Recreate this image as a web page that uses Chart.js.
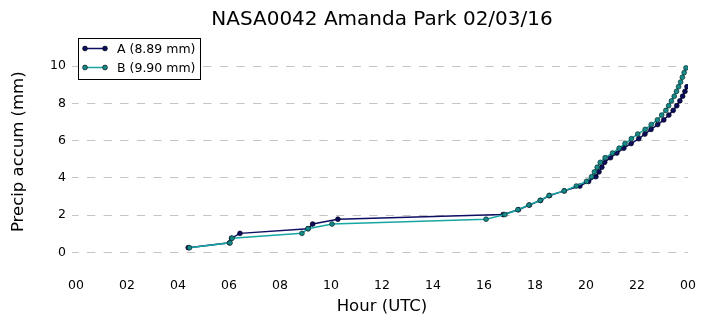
<!DOCTYPE html>
<html>
<head>
<meta charset="utf-8">
<script src="https://cdn.jsdelivr.net/npm/chart.js@4"></script>
<style>
  body { margin: 0; background: #fff; }
</style>
</head>
<body>
<canvas id="chart" width="706" height="326"></canvas>
<script>
// gauge tips (0.01 in each), hour of day in UTC
var hoursA = [4.40, 6.02, 6.10, 6.43, 9.10, 9.28, 10.27, 16.75, 17.35, 17.78, 18.22, 18.57, 19.15, 19.76,
  20.10, 20.39, 20.51, 20.62, 20.73, 20.96, 21.21, 21.48, 21.77, 22.07, 22.31, 22.55, 22.81, 23.05,
  23.25, 23.42, 23.56, 23.68, 23.79, 23.88, 23.96];
var precipA = [0.25, 0.51, 0.76, 1.02, 1.27, 1.52, 1.78, 2.03, 2.29, 2.54, 2.79, 3.05, 3.30, 3.56,
  3.81, 4.06, 4.32, 4.57, 4.83, 5.08, 5.33, 5.59, 5.84, 6.10, 6.35, 6.60, 6.86, 7.11,
  7.37, 7.62, 7.87, 8.13, 8.38, 8.64, 8.89];

var hoursB = [4.45, 6.04, 6.12, 8.86, 9.10, 10.04, 16.08, 16.82, 17.33, 17.76, 18.20, 18.55, 19.14, 19.62,
  20.02, 20.22, 20.33, 20.44, 20.56, 20.75, 21.04, 21.30, 21.53, 21.78, 22.03, 22.32, 22.56, 22.80,
  22.97, 23.13, 23.24, 23.35, 23.46, 23.55, 23.63, 23.71, 23.78, 23.85, 23.92];
var precipB = [0.25, 0.51, 0.76, 1.02, 1.27, 1.52, 1.78, 2.03, 2.29, 2.54, 2.79, 3.05, 3.30, 3.56,
  3.81, 4.06, 4.32, 4.57, 4.83, 5.08, 5.33, 5.59, 5.84, 6.10, 6.35, 6.60, 6.86, 7.11,
  7.37, 7.62, 7.87, 8.13, 8.38, 8.64, 8.89, 9.14, 9.40, 9.65, 9.90];

var seriesLabels = ['A (8.89 mm)', 'B (9.90 mm)'];
var xTicks = [0, 2, 4, 6, 8, 10, 12, 14, 16, 18, 20, 22, 24];
var yTicks = [0, 2, 4, 6, 8, 10];
var chartTitle = 'NASA0042 Amanda Park 02/03/16';

function toPoints(xs, ys) {
  var out = [];
  for (var i = 0; i < xs.length; i++) {
    out.push({x: xs[i], y: ys[i]});
  }
  return out;
}

var navy = '#0e0e62';
var teal = '#17a6a2';

// title centred over the plot, and a boxed legend in the upper left
var extras = {
  id: 'extras',
  afterDraw: function(chart) {
    var ctx = chart.ctx;
    var area = chart.chartArea;
    ctx.save();
    ctx.fillStyle = '#000';
    ctx.font = '20px "DejaVu Sans"';
    ctx.textAlign = 'center';
    ctx.textBaseline = 'alphabetic';
    ctx.fillText(chartTitle, (area.left + area.right) / 2, 25);

    ctx.fillStyle = '#fff';
    ctx.fillRect(78.5, 38.5, 122, 41);
    ctx.strokeStyle = '#000';
    ctx.lineWidth = 1;
    ctx.strokeRect(78.5, 38.5, 122, 41);

    var rows = [[navy, '#0d0d60', 48.5], [teal, '#178a8a', 67.5]];
    ctx.font = '12.5px "DejaVu Sans"';
    ctx.textAlign = 'left';
    ctx.textBaseline = 'middle';
    for (var i = 0; i < rows.length; i++) {
      var y = rows[i][2];
      ctx.strokeStyle = rows[i][0];
      ctx.lineWidth = 1.5;
      ctx.beginPath();
      ctx.moveTo(85, y);
      ctx.lineTo(105, y);
      ctx.stroke();
      var ends = [85, 105];
      for (var j = 0; j < 2; j++) {
        ctx.beginPath();
        ctx.arc(ends[j], y, 2.4, 0, Math.PI * 2);
        ctx.fillStyle = rows[i][1];
        ctx.fill();
        ctx.lineWidth = 0.7;
        ctx.strokeStyle = '#001010';
        ctx.stroke();
      }
      ctx.fillStyle = '#000';
      ctx.fillText(seriesLabels[i], 117, y + 1);
    }
    ctx.restore();
  }
};

Chart.defaults.font.family = '"DejaVu Sans"';
Chart.defaults.color = '#000';

var ctx = document.getElementById('chart').getContext('2d');
var ans = new Chart(ctx, {
  type: 'line',
  data: {
    datasets: [{
      label: seriesLabels[0],
      data: toPoints(hoursA, precipA),
      borderColor: navy,
      borderWidth: 1.5,
      backgroundColor: '#0d0d60',
      pointBackgroundColor: '#0d0d60',
      pointBorderColor: '#000018',
      pointBorderWidth: 0.7,
      pointRadius: 2.4,
      tension: 0,
      order: 1
    }, {
      label: seriesLabels[1],
      data: toPoints(hoursB, precipB),
      borderColor: teal,
      borderWidth: 1.5,
      backgroundColor: '#178a8a',
      pointBackgroundColor: '#178a8a',
      pointBorderColor: '#062c2c',
      pointBorderWidth: 0.7,
      pointRadius: 2.4,
      tension: 0,
      order: 0
    }]
  },
  options: {
    responsive: false,
    animation: false,
    layout: { padding: { top: 32.5, right: 18, left: 0, bottom: 0 } },
    plugins: {
      legend: { display: false },
      title: { display: false },
      tooltip: { enabled: false }
    },
    scales: {
      x: {
        type: 'linear',
        min: 0,
        max: 24,
        afterBuildTicks: function(axis) {
          axis.ticks = xTicks.map(function(v) { return {value: v}; });
        },
        afterFit: function(axis) { axis.height = 55; },
        ticks: {
          font: { size: 12.5 },
          padding: 7,
          callback: function(v) { return ('0' + (v % 24)).slice(-2); }
        },
        grid: { display: false, drawTicks: false },
        border: { display: false },
        title: {
          display: true,
          text: 'Hour (UTC)',
          font: { size: 16.5 },
          padding: { top: 0, bottom: 9 }
        }
      },
      y: {
        min: -1,
        max: 11.8,
        afterBuildTicks: function(axis) {
          axis.ticks = yTicks.map(function(v) { return {value: v}; });
        },
        afterFit: function(axis) { axis.width = 76; },
        ticks: { font: { size: 12.5 }, padding: 6 },
        grid: {
          color: '#c4c4c4',
          lineWidth: 1,
          tickLength: 4,
          tickColor: '#c4c4c4',
          tickBorderDash: []
        },
        border: { display: false, dash: [8.3, 8.3], dashOffset: 5.6 },
        title: {
          display: true,
          text: 'Precip accum (mm)',
          font: { size: 16.5 },
          padding: { top: 8.5, bottom: 0 }
        }
      }
    }
  },
  plugins: [extras]
});
</script>
</body>
</html>
